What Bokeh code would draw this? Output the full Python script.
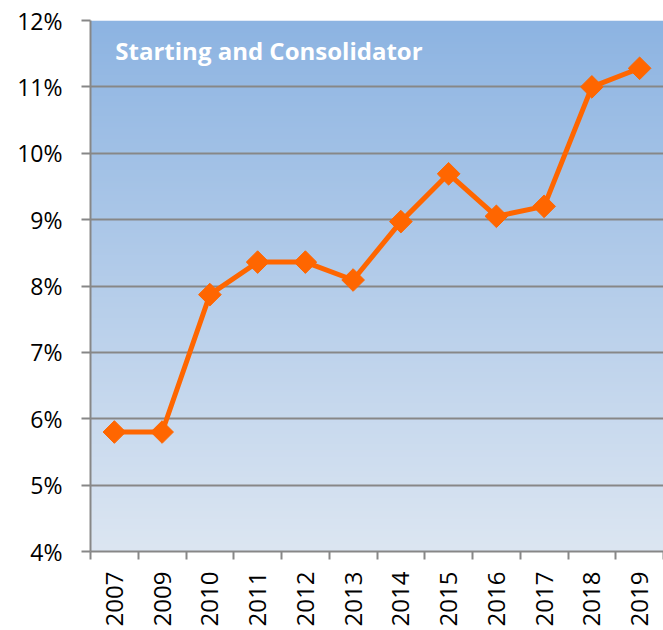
import numpy as np
from bokeh.plotting import figure
from bokeh.models import FixedTicker, PrintfTickFormatter, Label, Range1d
from bokeh.embed import file_html
from bokeh.resources import INLINE

# ---- data ----
years = ["2007", "2009", "2010", "2011", "2012", "2013", "2014", "2015", "2016", "2017", "2018", "2019"]
values = [5.8, 5.8, 7.87, 8.36, 8.36, 8.09, 8.97, 9.69, 9.05, 9.2, 11.0, 11.28]
y_ticks = [4, 5, 6, 7, 8, 9, 10, 11, 12]
title_text = "Starting and Consolidator"

n = len(years)
xs = [i + 0.5 for i in range(n)]

FONT = "Open Sans"
GRID = "#878787"

p = figure(width=663, height=630, output_backend="svg", toolbar_location=None,
           x_range=Range1d(0, n), y_range=Range1d(y_ticks[0], y_ticks[-1]),
           min_border_left=90, min_border_top=20, min_border_right=0, min_border_bottom=79)
p.outline_line_color = None
p.background_fill_color = None

# gradient background
N = 256
top = np.array([141, 180, 226], dtype=float)
bot = np.array([220, 230, 242], dtype=float)
t = np.linspace(0, 1, N)[:, None]
cols = (bot + (top - bot) * t).astype(np.uint32)
img = np.empty((N, 1), dtype=np.uint32)
view = img.view(dtype=np.uint8).reshape((N, 1, 4))
view[:, 0, 0] = cols[:, 0]
view[:, 0, 1] = cols[:, 1]
view[:, 0, 2] = cols[:, 2]
view[:, 0, 3] = 255
p.image_rgba(image=[img], x=0, y=y_ticks[0], dw=n, dh=y_ticks[-1] - y_ticks[0], level="image")

# grid
p.xgrid.visible = False
p.ygrid.ticker = FixedTicker(ticks=y_ticks)
p.ygrid.grid_line_color = GRID
p.ygrid.grid_line_width = 2
p.ygrid.level = "underlay"

# line + markers
p.line(xs, values, line_color="#ff6600", line_width=5)
p.scatter(xs, values, marker="square", angle=np.pi / 4, size=16,
          fill_color="#ff6600", line_color="#ff6600")

# x axis
xa = p.xaxis[0]
xa.ticker = FixedTicker(ticks=xs, minor_ticks=list(range(n + 1)))
xa.major_label_overrides = {x: y for x, y in zip(xs, years)}
xa.major_tick_out = 0
xa.major_tick_in = 0
xa.minor_tick_out = 8
xa.minor_tick_in = 0
xa.minor_tick_line_color = GRID
xa.minor_tick_line_width = 2
xa.axis_line_color = GRID
xa.axis_line_width = 2
xa.major_label_orientation = np.pi / 2
xa.major_label_standoff = 12
xa.major_label_text_font = FONT
xa.major_label_text_font_size = "24px"
xa.major_label_text_color = "#000000"

# y axis
ya = p.yaxis[0]
ya.ticker = FixedTicker(ticks=y_ticks, minor_ticks=[])
ya.formatter = PrintfTickFormatter(format="%d%%")
ya.major_tick_out = 9
ya.major_tick_in = 0
ya.major_tick_line_color = GRID
ya.major_tick_line_width = 2
ya.axis_line_color = GRID
ya.axis_line_width = 2
ya.major_label_standoff = 19
ya.major_label_text_font = FONT
ya.major_label_text_font_size = "23px"
ya.major_label_text_color = "#000000"

p.add_layout(Label(x=0.52, y=11.55, text=title_text, text_color="white",
                   text_font=FONT, text_font_style="bold", text_font_size="24px",
                   text_baseline="middle", text_align="left"))

open("out.html", "w").write(file_html(p, INLINE))
